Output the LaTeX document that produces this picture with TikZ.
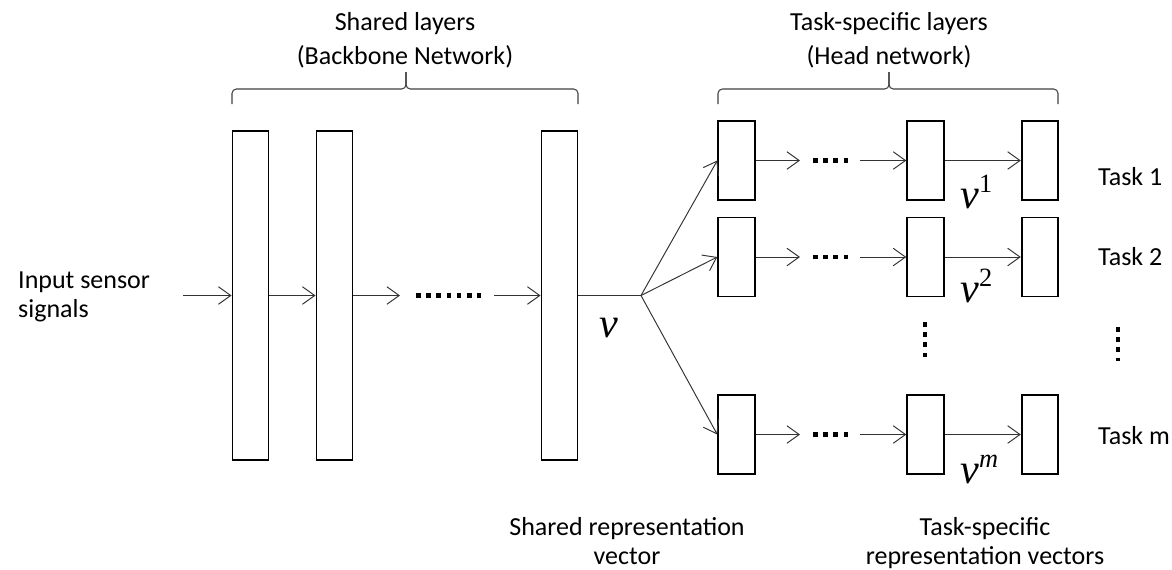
\documentclass[tikz,border=0pt]{standalone}
\usepackage{fontspec}
\setmainfont{Carlito}
\newfontfamily\timesit{Liberation Serif}
\usetikzlibrary{arrows.meta}

% italic v and its superscript index
\newcommand{\vsym}{{\timesit\itshape\fontsize{24}{24}\selectfont v}}
\newcommand{\vsup}[1]{\vsym\raisebox{9pt}{\timesit\fontsize{15}{15}\selectfont #1}}

\begin{document}
\begin{tikzpicture}[x=0.02cm, y=-0.02cm, font=\fontsize{14.8}{17}\selectfont,
		layer/.style={draw, line width=1.1pt, minimum width=0.72cm, minimum height=6.58cm, inner sep=0pt},
		head/.style={draw, line width=1.1pt, minimum width=0.73cm, minimum height=1.58cm, inner sep=0pt},
		link/.style={draw=black!80, line width=0.55pt},
		flow/.style={link, -{Straight Barb[length=7pt,width=10pt]}},
		hdots/.style={line width=2.3pt, dash pattern=on 2.6pt off 3.2pt},
		bracket/.style={draw=black!75, line width=0.6pt, rounded corners=2.5pt}]
	\useasboundingbox (0,0) rectangle (1172,569);

	% titles and brackets
	\node[align=center, font=\fontsize{14.8}{19.3}\selectfont] (shared) at (405,40) {Shared layers\\(Backbone Network)};
	\node[align=center, font=\fontsize{14.8}{19.3}\selectfont] (specific) at (889,40) {Task-specific layers\\(Head network)};
	\draw[bracket] (232,104) -- (232,89) -- (406,89) -- (406,72);
	\draw[bracket] (578,104) -- (578,89) -- (406,89) -- (406,72);
	\draw[bracket] (718,104) -- (718,89) -- (889,89) -- (889,72);
	\draw[bracket] (1058,104) -- (1058,89) -- (889,89) -- (889,72);

	% backbone
	\node[align=left, anchor=west, font=\fontsize{14.8}{16.4}\selectfont] (input) at (12,297) {Input sensor\\signals};
	\node[layer] (l1) at (250.5,295.5) {};
	\node[layer] (l2) at (334.5,295.5) {};
	\node[layer] (l3) at (559.5,295.5) {};
	\coordinate (in) at (183,295.5);
	\coordinate (g1) at (400,295.5);
	\coordinate (g2) at (494,295.5);
	\coordinate (fork) at (641,295.5);
	\draw[flow] (in) -- (l1);
	\draw[flow] (l1) -- (l2);
	\draw[flow] (l2) -- (g1);
	\draw[hdots] (416,295.5) -- (481,295.5);
	\draw[flow] (g2) -- (l3);
	\draw[link] (l3) -- (fork);
	\node (v) at (609,328) {\vsym};

	% heads
	\node[head] (t1a) at (736.5,160.5) {};
	\node[head] (t1b) at (925.5,160.5) {};
	\node[head] (t1c) at (1040,160.5) {};
	\node[head] (t2a) at (736.5,257) {};
	\node[head] (t2b) at (925.5,257) {};
	\node[head] (t2c) at (1040,257) {};
	\node[head] (tma) at (736.5,434.5) {};
	\node[head] (tmb) at (925.5,434.5) {};
	\node[head] (tmc) at (1040,434.5) {};
	\draw[flow] (fork) -- (t1a.west);
	\draw[flow] (fork) -- (t2a.west);
	\draw[flow] (fork) -- (tma.west);

	\coordinate (e1) at (800,160.5);
	\coordinate (s1) at (860,160.5);
	\draw[flow] (t1a) -- (e1);
	\draw[hdots] (813,160.5) -- (848,160.5);
	\draw[flow] (s1) -- (t1b);
	\draw[flow] (t1b) -- (t1c);

	\coordinate (e2) at (800,257);
	\coordinate (s2) at (860,257);
	\draw[flow] (t2a) -- (e2);
	\draw[hdots] (813,257) -- (848,257);
	\draw[flow] (s2) -- (t2b);
	\draw[flow] (t2b) -- (t2c);

	\coordinate (em) at (800,434.5);
	\coordinate (sm) at (860,434.5);
	\draw[flow] (tma) -- (em);
	\draw[hdots] (813,434.5) -- (848,434.5);
	\draw[flow] (sm) -- (tmb);
	\draw[flow] (tmb) -- (tmc);

	\draw[hdots] (925,322) -- (925,357);
	\draw[hdots] (1118,327) -- (1118,361);

	\node[anchor=base west, inner sep=0pt] (v1) at (960,208) {\vsup{1}};
	\node[anchor=base west, inner sep=0pt] (v2) at (960,302) {\vsup{2}};
	\node[anchor=base west, inner sep=0pt] (vm) at (960,483) {\vsup{\itshape m}};

	\node[anchor=west] (task1) at (1092,177) {Task 1};
	\node[anchor=west] (task2) at (1092,257) {Task 2};
	\node[anchor=west] (taskm) at (1092,436) {Task m};

	% bottom captions
	\node[align=center] (srv) at (627,541) {Shared representation\\vector};
	\node[align=center] (trv) at (985,543) {Task-specific\\representation vectors};
\end{tikzpicture}
\end{document}
